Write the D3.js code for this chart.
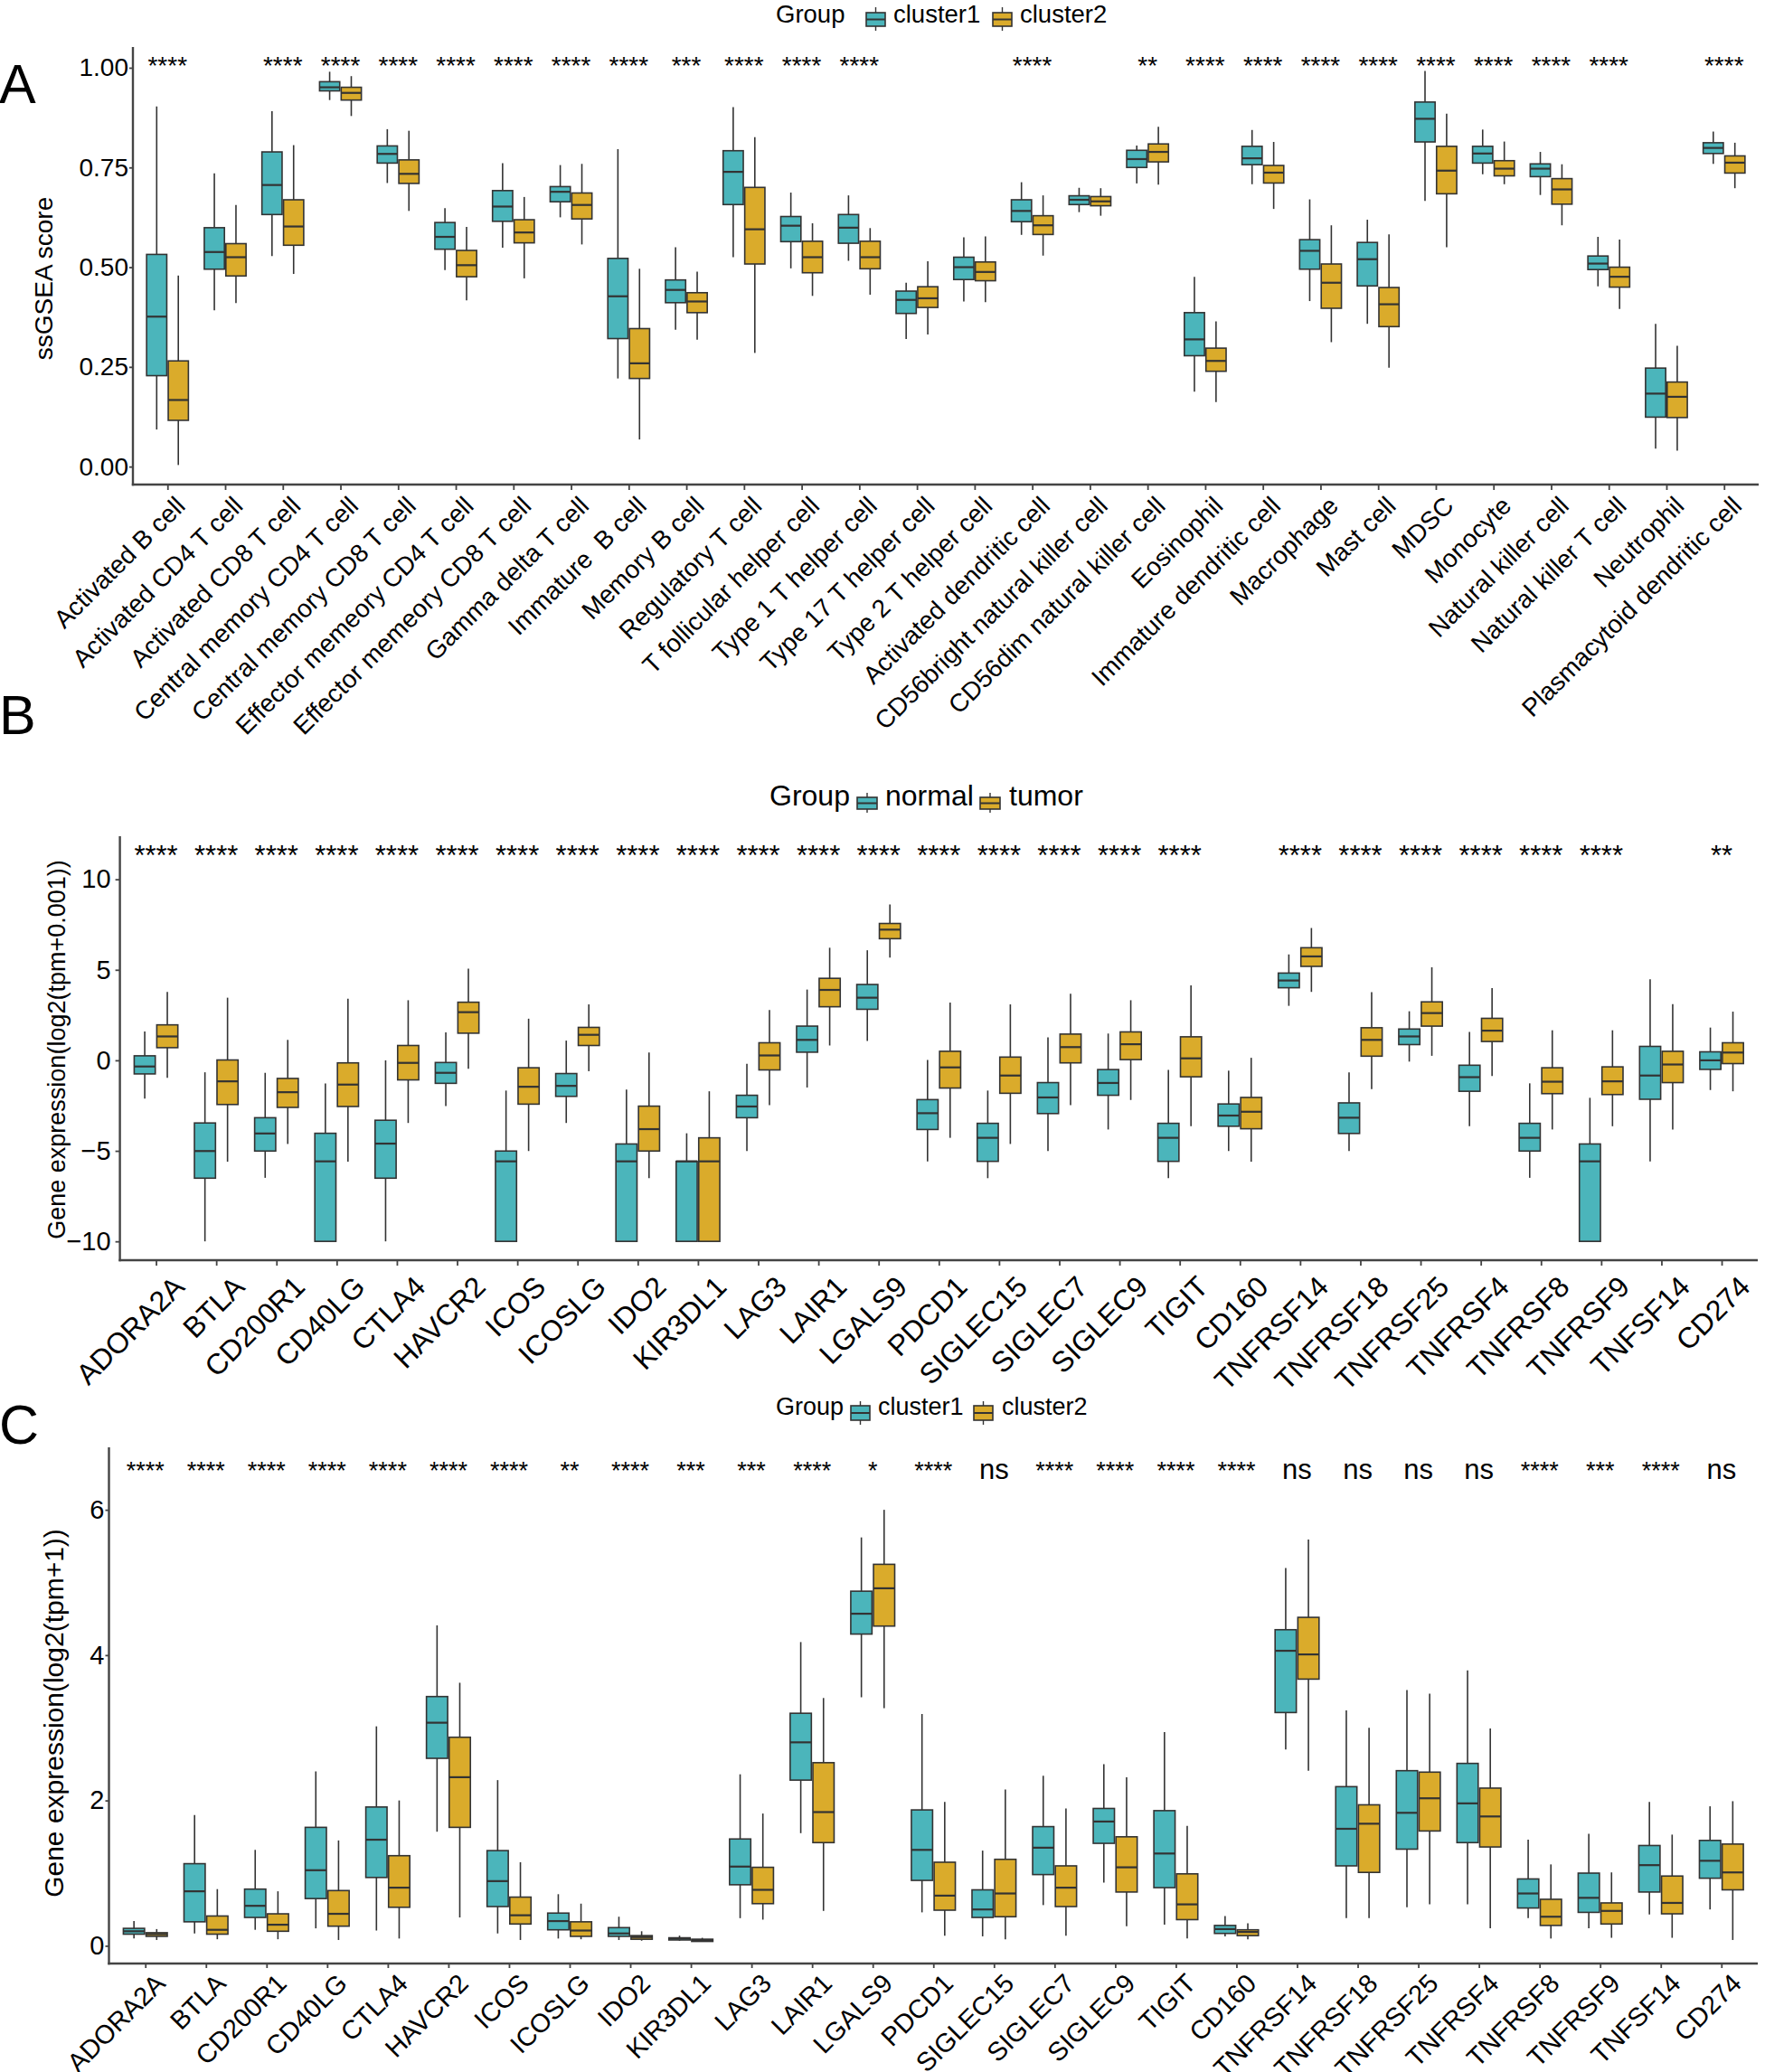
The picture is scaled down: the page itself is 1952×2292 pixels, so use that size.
<!DOCTYPE html>
<html><head><meta charset="utf-8">
<script src="https://cdn.jsdelivr.net/npm/d3@7"></script>
<style>body{margin:0;background:#fff} text{font-family:"Liberation Sans",Arial,Helvetica,sans-serif;fill:#000}</style>
</head><body>
<svg id="fig" width="1952" height="2292" xmlns="http://www.w3.org/2000/svg"></svg>
<script>
// ---------------- DATA ----------------
// five-number summaries: [whisker min, Q1, median, Q3, whisker max]
const cellTypes = ["Activated B cell","Activated CD4 T cell","Activated CD8 T cell","Central memory CD4 T cell","Central memory CD8 T cell","Effector memeory CD4 T cell","Effector memeory CD8 T cell","Gamma delta T cell","Immature  B cell","Memory B cell","Regulatory T cell","T follicular helper cell","Type 1 T helper cell","Type 17 T helper cell","Type 2 T helper cell","Activated dendritic cell","CD56bright natural killer cell","CD56dim natural killer cell","Eosinophil","Immature dendritic cell","Macrophage","Mast cell","MDSC","Monocyte","Natural killer cell","Natural killer T cell","Neutrophil","Plasmacytoid dendritic cell"];
const sigImmune = ["****","","****","****","****","****","****","****","****","***","****","****","****","","","****","","**","****","****","****","****","****","****","****","****","","****"];
const immuneCluster1 = [
 [0.093,0.228,0.376,0.532,0.903],[0.392,0.495,0.538,0.599,0.735],[0.528,0.632,0.706,0.789,0.891],[0.919,0.942,0.951,0.965,0.990],
 [0.711,0.761,0.784,0.804,0.846],[0.493,0.545,0.576,0.612,0.648],[0.549,0.615,0.652,0.692,0.761],[0.625,0.664,0.689,0.702,0.756],
 [0.221,0.321,0.427,0.522,0.796],[0.343,0.411,0.443,0.468,0.550],[0.525,0.657,0.739,0.792,0.901],[0.497,0.564,0.604,0.627,0.687],
 [0.516,0.560,0.599,0.632,0.680],[0.320,0.384,0.418,0.440,0.461],[0.414,0.469,0.500,0.525,0.575],[0.581,0.614,0.641,0.669,0.713],
 [0.638,0.657,0.669,0.679,0.699],[0.710,0.750,0.771,0.793,0.805],[0.188,0.278,0.319,0.386,0.476],[0.708,0.757,0.773,0.803,0.844],
 [0.415,0.495,0.541,0.569,0.670],[0.358,0.453,0.520,0.562,0.619],[0.666,0.814,0.872,0.914,0.992],[0.733,0.761,0.785,0.803,0.845],
 [0.681,0.727,0.747,0.759,0.789],[0.452,0.494,0.509,0.528,0.576],[0.045,0.124,0.183,0.247,0.358],[0.759,0.785,0.799,0.812,0.840]];
const immuneCluster2 = [
 [0.004,0.116,0.167,0.265,0.479],[0.410,0.478,0.525,0.559,0.656],[0.483,0.555,0.602,0.669,0.806],[0.879,0.919,0.937,0.951,0.979],
 [0.641,0.710,0.734,0.769,0.842],[0.417,0.476,0.505,0.542,0.601],[0.472,0.561,0.587,0.619,0.676],[0.557,0.621,0.656,0.686,0.759],
 [0.068,0.221,0.259,0.346,0.496],[0.318,0.386,0.414,0.436,0.489],[0.285,0.508,0.595,0.700,0.826],[0.428,0.486,0.525,0.565,0.610],
 [0.431,0.496,0.525,0.565,0.598],[0.331,0.399,0.422,0.451,0.515],[0.412,0.466,0.488,0.513,0.577],[0.529,0.582,0.605,0.629,0.680],
 [0.629,0.654,0.665,0.677,0.698],[0.707,0.764,0.789,0.809,0.852],[0.162,0.239,0.265,0.297,0.364],[0.646,0.711,0.737,0.755,0.814],
 [0.312,0.397,0.461,0.508,0.605],[0.248,0.351,0.407,0.449,0.582],[0.550,0.684,0.742,0.803,0.885],[0.708,0.729,0.747,0.767,0.815],
 [0.605,0.658,0.695,0.722,0.758],[0.395,0.450,0.476,0.500,0.569],[0.040,0.123,0.175,0.212,0.303],[0.698,0.736,0.762,0.779,0.812]];

const genes = ["ADORA2A","BTLA","CD200R1","CD40LG","CTLA4","HAVCR2","ICOS","ICOSLG","IDO2","KIR3DL1","LAG3","LAIR1","LGALS9","PDCD1","SIGLEC15","SIGLEC7","SIGLEC9","TIGIT","CD160","TNFRSF14","TNFRSF18","TNFRSF25","TNFRSF4","TNFRSF8","TNFRSF9","TNFSF14","CD274"];
const sigTumor = ["****","****","****","****","****","****","****","****","****","****","****","****","****","****","****","****","****","****","","****","****","****","****","****","****","","**"];
const geneNormal = [
 [-2.12,-0.75,-0.34,0.25,1.59],[-10,-6.51,-5.01,-3.46,-0.66],[-6.49,-5.01,-4.04,-3.17,-0.69],[-10,-10,-5.58,-4.03,-1.28],
 [-10,-6.51,-4.60,-3.31,0.0],[-2.53,-1.27,-0.69,-0.12,1.54],[-10,-10,-5.58,-5.01,-1.67],[-3.46,-1.99,-1.41,-0.73,1.09],
 [-10,-10,-5.58,-4.62,-1.62],[-10,-10,-5.58,-5.58,-4.03],[-5.01,-3.17,-2.55,-1.93,-0.19],[-1.50,0.45,1.13,1.89,3.91],
 [1.07,2.82,3.46,4.19,6.08],[-5.58,-3.82,-2.92,-2.17,0.02],[-6.51,-5.58,-4.28,-3.48,-1.67],[-5.01,-2.94,-2.05,-1.23,1.27],
 [-3.82,-1.93,-1.25,-0.51,1.48],[-6.51,-5.58,-4.28,-3.48,-0.53],[-5.01,-3.64,-3.05,-2.41,-0.57],[3.01,4.01,4.41,4.82,5.85],
 [-5.01,-4.04,-3.17,-2.35,-0.66],[-0.07,0.87,1.32,1.73,2.71],[-3.64,-1.71,-0.93,-0.27,1.57],[-6.49,-5.01,-4.28,-3.48,-1.27],
 [-10,-10,-5.58,-4.62,-2.07],[-5.58,-2.15,-0.84,0.77,4.48],[-1.64,-0.50,0.0,0.47,1.81]];
const geneTumor = [
 [-0.96,0.70,1.32,1.96,3.78],[-5.60,-2.44,-1.16,0.02,3.46],[-4.62,-2.60,-1.76,-1.00,1.13],[-5.60,-2.55,-1.34,-0.14,3.41],
 [-3.46,-1.08,-0.14,0.82,3.32],[-0.46,1.50,2.66,3.21,5.07],[-5.01,-2.42,-1.46,-0.41,2.30],[-0.60,0.82,1.41,1.82,3.09],
 [-6.51,-5.01,-3.80,-2.53,0.43],[-10,-10,-5.58,-4.28,-1.71],[-2.48,-0.53,0.27,0.97,2.78],[0.82,2.96,3.89,4.53,6.22],
 [5.67,6.72,7.22,7.56,8.61],[-4.28,-1.53,-0.39,0.50,3.19],[-4.62,-1.82,-0.84,0.18,3.09],[-2.48,-0.14,0.73,1.45,3.68],
 [-2.19,0.04,0.89,1.57,3.32],[-3.64,-0.91,0.11,1.30,4.14],[-5.60,-3.78,-2.84,-2.05,0.14],[3.78,5.19,5.74,6.22,7.31],
 [-1.59,0.23,1.13,1.80,3.76],[0.25,1.89,2.61,3.23,5.14],[-0.86,1.04,1.64,2.32,3.99],[-3.82,-1.84,-1.18,-0.41,1.66],
 [-3.64,-1.89,-1.16,-0.36,1.66],[-3.82,-1.23,-0.23,0.50,3.10],[-1.71,-0.18,0.43,0.97,2.69]];

const sigCluster = ["****","****","****","****","****","****","****","**","****","***","***","****","*","****","ns","****","****","****","****","ns","ns","ns","ns","****","***","****","ns"];
const geneCluster1 = [
 [0.10,0.16,0.20,0.24,0.34],[0.17,0.33,0.75,1.13,1.80],[0.22,0.39,0.55,0.78,1.32],[0.24,0.65,1.04,1.63,2.40],
 [0.21,0.94,1.46,1.91,3.02],[1.57,2.58,3.07,3.43,4.41],[0.17,0.54,0.89,1.31,2.28],[0.10,0.22,0.34,0.45,0.71],
 [0.08,0.13,0.17,0.25,0.40],[0.07,0.08,0.10,0.11,0.14],[0.38,0.84,1.09,1.47,2.36],[1.55,2.28,2.80,3.20,4.18],
 [3.42,4.29,4.57,4.88,5.62],[0.46,0.90,1.32,1.87,3.19],[0.13,0.39,0.50,0.77,1.31],[0.56,0.98,1.35,1.64,2.34],
 [0.87,1.41,1.71,1.89,2.50],[0.29,0.80,1.27,1.86,2.94],[0.13,0.17,0.23,0.28,0.41],[2.70,3.21,4.06,4.35,5.20],
 [0.38,1.10,1.61,2.19,3.24],[0.53,1.33,1.83,2.41,3.52],[0.57,1.42,1.96,2.51,3.79],[0.38,0.52,0.72,0.92,1.46],
 [0.24,0.46,0.66,1.00,1.54],[0.43,0.74,1.11,1.38,1.98],[0.50,0.93,1.17,1.45,1.92]];
const geneCluster2 = [
 [0.08,0.13,0.16,0.18,0.23],[0.09,0.16,0.22,0.41,0.78],[0.09,0.20,0.29,0.44,0.75],[0.08,0.27,0.44,0.76,1.45],
 [0.10,0.53,0.80,1.24,2.00],[0.39,1.63,2.32,2.87,3.62],[0.08,0.30,0.42,0.67,1.15],[0.09,0.13,0.21,0.33,0.58],
 [0.07,0.09,0.12,0.14,0.20],[0.055,0.06,0.08,0.09,0.11],[0.36,0.58,0.77,1.08,1.82],[0.48,1.42,1.84,2.52,3.41],
 [3.27,4.40,4.92,5.25,6.00],[0.14,0.49,0.69,1.15,1.98],[0.09,0.40,0.72,1.19,2.15],[0.14,0.54,0.80,1.10,1.89],
 [0.27,0.74,1.08,1.50,2.32],[0.10,0.36,0.57,0.99,1.65],[0.09,0.14,0.19,0.22,0.31],[2.41,3.67,4.01,4.52,5.59],
 [0.38,1.01,1.68,1.94,3.00],[0.57,1.58,2.03,2.39,3.47],[0.24,1.36,1.78,2.17,2.99],[0.10,0.28,0.40,0.64,1.12],
 [0.11,0.30,0.48,0.59,1.01],[0.11,0.44,0.59,0.96,1.53],[0.08,0.77,1.01,1.40,1.99]];

const ticksA = [0, 0.25, 0.5, 0.75, 1.0];
const ticksB = [-10, -5, 0, 5, 10];
const ticksC = [0, 2, 4, 6];
const groupsA = ["cluster1", "cluster2"];
const groupsB = ["normal", "tumor"];
const groupsC = ["cluster1", "cluster2"];

// ---------------- DRAWING ----------------
const COLORS = ["#4BB5BB", "#DAAB2B"];
const STROKE = "#333333";
const svg = d3.select("#fig");

function drawPanel(p) {
  const g = svg.append("g");
  const x = d3.scalePoint().domain(p.cats).range([p.left, p.right]).padding(0.6);
  const y = d3.scaleLinear().domain(p.domain).range([p.bottom, p.top]);
  const step = x.step();
  const off = step * 0.1875, bw = step * 0.35;

  // boxes
  [p.s1, p.s2].forEach((series, si) => {
    const gg = g.append("g");
    series.forEach((d, i) => {
      const cx = x(p.cats[i]) + (si === 0 ? -off : off);
      const [mn, q1, md, q3, mx] = d;
      gg.append("line").attr("x1", cx).attr("x2", cx).attr("y1", y(q3)).attr("y2", y(mx))
        .attr("stroke", STROKE).attr("stroke-width", 1.6);
      gg.append("line").attr("x1", cx).attr("x2", cx).attr("y1", y(q1)).attr("y2", y(mn))
        .attr("stroke", STROKE).attr("stroke-width", 1.6);
      gg.append("rect").attr("x", cx - bw / 2).attr("width", bw)
        .attr("y", y(q3)).attr("height", Math.max(0.8, y(q1) - y(q3)))
        .attr("fill", COLORS[si]).attr("stroke", STROKE).attr("stroke-width", 1.6);
      gg.append("line").attr("x1", cx - bw / 2).attr("x2", cx + bw / 2).attr("y1", y(md)).attr("y2", y(md))
        .attr("stroke", STROKE).attr("stroke-width", 2.2);
    });
  });

  // axes
  const ya = d3.axisLeft(y).tickValues(p.ticks).tickFormat(p.fmt).tickSize(p.ytick).tickSizeOuter(0).tickPadding(p.ypad);
  const yg = g.append("g").attr("transform", `translate(${p.left},0)`).call(ya);
  yg.selectAll("text").attr("font-size", p.yTickSize).style("font-family", "Liberation Sans, Arial, sans-serif").attr("fill", "#000");
  const xa = d3.axisBottom(x).tickSize(p.xtick).tickSizeOuter(0).tickFormat("");
  const xg = g.append("g").attr("transform", `translate(0,${p.bottom})`).call(xa);
  [yg, xg].forEach(a => {
    a.select(".domain").attr("stroke", "#444").attr("stroke-width", 2.4);
    a.selectAll(".tick line").attr("stroke", "#444").attr("stroke-width", 1.8);
  });
  yg.select(".domain").attr("d", `M0,${p.bottom + 1.2}V${p.top}`);
  xg.select(".domain").attr("d", `M${p.left - 1.2},0H${p.right}`);

  // rotated x labels
  g.append("g").selectAll("text").data(p.cats).join("text")
    .attr("transform", d => `translate(${x(d) + p.xlab[0]},${p.bottom + p.xlab[1]}) rotate(-45)`)
    .attr("text-anchor", "end").attr("dy", "0.72em")
    .attr("font-size", p.xLabSize).style("white-space", "pre")
    .text(d => d);

  // y title
  g.append("text").attr("transform", `translate(${p.titleX},${p.titleY}) rotate(-90)`)
    .attr("text-anchor", "middle").attr("font-size", p.titleSize).text(p.yTitle);

  // significance labels
  g.append("g").selectAll("text").data(p.sig).join("text")
    .attr("x", (d, i) => x(p.cats[i])).attr("y", p.sigY)
    .attr("text-anchor", "middle")
    .attr("font-size", d => d === "ns" ? p.nsSize : p.sigSize)
    .text(d => d);

  // legend
  const L = p.legend;
  g.append("text").attr("x", L.groupX).attr("y", L.baseline).attr("font-size", L.size).text("Group");
  L.keys.forEach((kx, k) => {
    const kc = kx + L.kw / 2;
    g.append("line").attr("x1", kc).attr("x2", kc).attr("y1", L.wTop).attr("y2", L.wBot).attr("stroke", STROKE).attr("stroke-width", 1.4);
    g.append("rect").attr("x", kx).attr("y", L.bTop).attr("width", L.kw).attr("height", L.bBot - L.bTop)
      .attr("fill", COLORS[k]).attr("stroke", STROKE).attr("stroke-width", 1.6);
    g.append("line").attr("x1", kx).attr("x2", kx + L.kw).attr("y1", (L.bTop + L.bBot) / 2).attr("y2", (L.bTop + L.bBot) / 2)
      .attr("stroke", STROKE).attr("stroke-width", 2);
    g.append("text").attr("x", L.labelX[k]).attr("y", L.baseline).attr("font-size", L.size).text(p.groups[k]);
  });

  // panel letter
  g.append("text").attr("x", -1).attr("y", p.letterY).attr("font-size", 61).text(p.letter);
}

drawPanel({
  cats: cellTypes, s1: immuneCluster1, s2: immuneCluster2, sig: sigImmune, groups: groupsA,
  ticks: ticksA, fmt: d3.format(".2f"), domain: [-0.045, 1.052],
  left: 147, right: 1945, top: 52, bottom: 536,
  ytick: 4, ypad: 1, xtick: 6, yTickSize: 28, xLabSize: 28, xlab: [7, 11],
  yTitle: "ssGSEA score", titleX: 58, titleY: 308, titleSize: 28,
  sigY: 82, sigSize: 28, nsSize: 30,
  legend: { groupX: 858, baseline: 25, size: 27.5, keys: [958, 1098], kw: 21, bTop: 14, bBot: 29, wTop: 8, wBot: 34, labelX: [988, 1128] },
  letter: "A", letterY: 114
});

drawPanel({
  cats: genes, s1: geneNormal, s2: geneTumor, sig: sigTumor, groups: groupsB,
  ticks: ticksB, fmt: d => d < 0 ? "\u2212" + Math.abs(d) : String(d), domain: [-11.04, 12.38],
  left: 132.6, right: 1944, top: 925, bottom: 1394,
  ytick: 5, ypad: 5, xtick: 6, yTickSize: 29, xLabSize: 32, xlab: [17, 15],
  yTitle: "Gene expression(log2(tpm+0.001))", titleX: 72, titleY: 1161, titleSize: 27,
  sigY: 957, sigSize: 31, nsSize: 31,
  legend: { groupX: 851, baseline: 891, size: 32, keys: [948, 1084], kw: 22, bTop: 882, bBot: 895, wTop: 877, wBot: 899, labelX: [979, 1116] },
  letter: "B", letterY: 812
});

drawPanel({
  cats: genes, s1: geneCluster1, s2: geneCluster2, sig: sigCluster, groups: groupsC,
  ticks: ticksC, fmt: d3.format("d"), domain: [-0.244, 6.86],
  left: 120.5, right: 1944, top: 1601, bottom: 2172,
  ytick: 4, ypad: 1, xtick: 5, yTickSize: 29, xLabSize: 29, xlab: [9, 9],
  yTitle: "Gene expression(log2(tpm+1))", titleX: 70, titleY: 1895, titleSize: 30,
  sigY: 1636, sigSize: 27, nsSize: 31,
  legend: { groupX: 858, baseline: 1565, size: 27, keys: [941, 1077], kw: 21, bTop: 1555, bBot: 1571, wTop: 1550, wBot: 1576, labelX: [971, 1108] },
  letter: "C", letterY: 1597
});
</script>
</body></html>
